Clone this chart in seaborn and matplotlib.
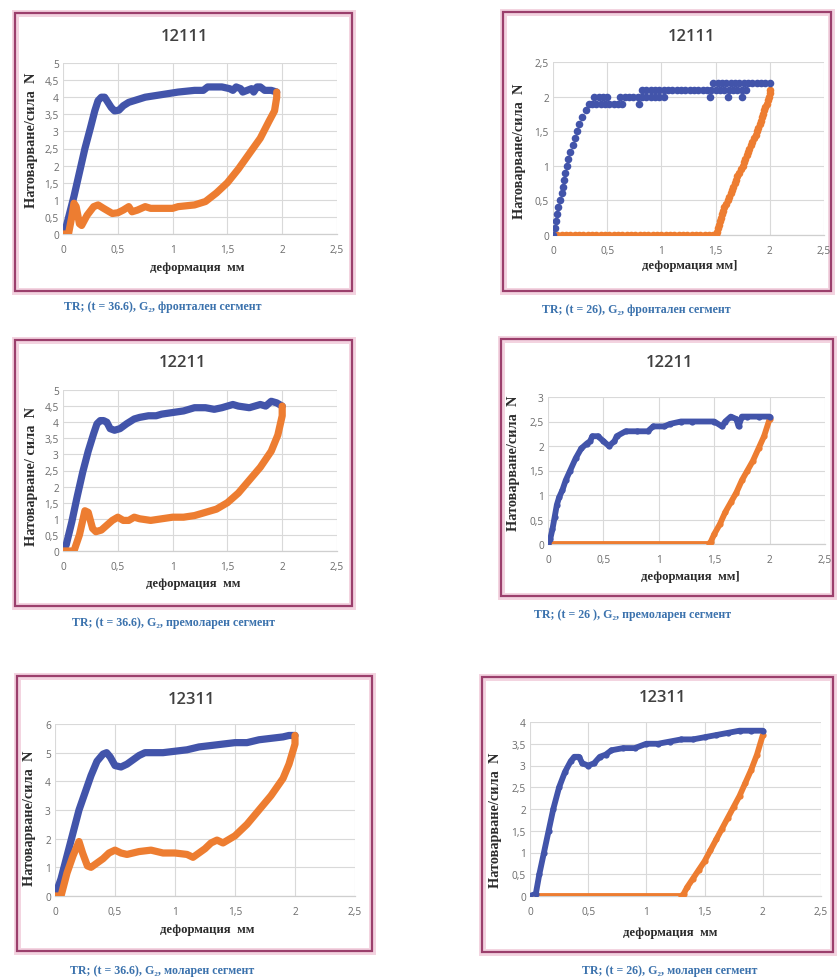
import numpy as np
import pandas as pd
import matplotlib
matplotlib.use("Agg")
import matplotlib.pyplot as plt
from matplotlib.patches import Rectangle
from matplotlib.ticker import MultipleLocator, FuncFormatter
import seaborn as sns

# ---------------------------------------------------------------- data
# 12111, t = 36.6 (frontal segment)
p1_load_x = [0.00, 0.02, 0.06, 0.10, 0.15, 0.20, 0.25, 0.29, 0.32, 0.35, 0.38, 0.41, 0.44,
             0.47, 0.51, 0.55, 0.60, 0.65, 0.70, 0.75, 0.85, 0.95, 1.05, 1.20, 1.28, 1.32,
             1.45, 1.52, 1.55, 1.58, 1.62, 1.64, 1.68, 1.72, 1.74, 1.77, 1.80, 1.84, 1.90, 1.95]
p1_load_y = [0.00, 0.10, 0.60, 1.10, 1.80, 2.50, 3.10, 3.60, 3.90, 4.00, 4.00, 3.85, 3.70,
             3.60, 3.62, 3.75, 3.85, 3.90, 3.95, 4.00, 4.05, 4.10, 4.15, 4.20, 4.20, 4.30,
             4.30, 4.25, 4.20, 4.30, 4.25, 4.15, 4.20, 4.25, 4.15, 4.30, 4.30, 4.20, 4.20, 4.15]
p1_unload_x = [0.00, 0.05, 0.08, 0.10, 0.12, 0.15, 0.17, 0.22, 0.28, 0.32, 0.37, 0.45, 0.50,
               0.55, 0.60, 0.63, 0.68, 0.75, 0.80, 1.00, 1.05, 1.20, 1.30, 1.40, 1.50, 1.60,
               1.70, 1.80, 1.88, 1.93, 1.95, 1.95]
p1_unload_y = [0.00, 0.00, 0.50, 0.90, 0.80, 0.30, 0.25, 0.55, 0.80, 0.85, 0.75, 0.60, 0.62,
               0.70, 0.80, 0.65, 0.70, 0.80, 0.75, 0.75, 0.80, 0.85, 0.95, 1.20, 1.50, 1.90,
               2.35, 2.80, 3.30, 3.60, 4.00, 4.15]

# 12111, t = 26 (frontal segment) - individual readings
p2_load_x = [0.00, 0.02, 0.03, 0.04, 0.05, 0.06, 0.08, 0.09, 0.10, 0.11, 0.13, 0.14, 0.16,
             0.18, 0.20, 0.22, 0.24, 0.27, 0.30, 0.33,
             0.36, 0.40, 0.44, 0.48, 0.52, 0.56, 0.60, 0.64, 0.79,
             0.38, 0.42, 0.46, 0.50, 0.62, 0.66, 0.70, 0.74, 0.78, 0.82, 0.86, 0.90, 0.94,
             0.98, 1.02, 1.45, 1.61, 1.74,
             0.82, 0.86, 0.90, 0.94, 0.98, 1.02, 1.06, 1.10, 1.14, 1.18, 1.22, 1.26, 1.30,
             1.34, 1.38, 1.42, 1.46, 1.50, 1.54, 1.58, 1.62, 1.66, 1.70, 1.74, 1.78,
             1.48, 1.52, 1.56, 1.60, 1.64, 1.68, 1.72, 1.76, 1.80, 1.84, 1.88, 1.92, 1.96, 2.00]
p2_load_y = [0.00, 0.10, 0.20, 0.30, 0.40, 0.50, 0.60, 0.70, 0.80, 0.90, 1.00, 1.10, 1.20,
             1.30, 1.40, 1.50, 1.60, 1.70, 1.80, 1.90,
             1.90, 1.90, 1.90, 1.90, 1.90, 1.90, 1.90, 1.90, 1.90,
             2.00, 2.00, 2.00, 2.00, 2.00, 2.00, 2.00, 2.00, 2.00, 2.00, 2.00, 2.00, 2.00,
             2.00, 2.00, 2.00, 2.00, 2.00,
             2.10, 2.10, 2.10, 2.10, 2.10, 2.10, 2.10, 2.10, 2.10, 2.10, 2.10, 2.10, 2.10,
             2.10, 2.10, 2.10, 2.10, 2.10, 2.10, 2.10, 2.10, 2.10, 2.10, 2.10, 2.10,
             2.20, 2.20, 2.20, 2.20, 2.20, 2.20, 2.20, 2.20, 2.20, 2.20, 2.20, 2.20, 2.20, 2.20]
p2_unload_x = [0.00, 0.04, 0.08, 0.12, 0.16, 0.20, 0.24, 0.28, 0.32, 0.36, 0.40, 0.44, 0.48,
               0.52, 0.56, 0.60, 0.64, 0.68, 0.72, 0.76, 0.80, 0.84, 0.88, 0.92, 0.96, 1.00,
               1.04, 1.08, 1.12, 1.16, 1.20, 1.24, 1.28, 1.32, 1.36, 1.40, 1.44, 1.48,
               1.50, 1.51, 1.52, 1.53, 1.54, 1.55, 1.56, 1.57, 1.58, 1.60, 1.61, 1.62, 1.64,
               1.65, 1.66, 1.68, 1.69, 1.70, 1.72, 1.73, 1.75, 1.76, 1.77, 1.79, 1.80, 1.81,
               1.83, 1.84, 1.85, 1.87, 1.88, 1.89, 1.91, 1.92, 1.93, 1.94, 1.95, 1.96, 1.97,
               1.98, 1.99, 2.00, 2.00]
p2_unload_y = [0.00] * 38 + [
               0.00, 0.05, 0.10, 0.15, 0.20, 0.25, 0.30, 0.35, 0.40, 0.45, 0.50, 0.55, 0.60,
               0.65, 0.70, 0.75, 0.80, 0.85, 0.90, 0.95, 1.00, 1.05, 1.10, 1.15, 1.20, 1.25,
               1.30, 1.35, 1.40, 1.45, 1.50, 1.55, 1.60, 1.65, 1.70, 1.75, 1.80, 1.85, 1.90,
               1.95, 2.00, 2.05, 2.10]

# 12211, t = 36.6 (premolar segment)
p3_load_x = [0.00, 0.03, 0.08, 0.13, 0.18, 0.23, 0.28, 0.31, 0.34, 0.37, 0.40, 0.43, 0.47,
             0.52, 0.58, 0.65, 0.70, 0.78, 0.85, 0.90, 1.00, 1.10, 1.20, 1.30, 1.38, 1.45,
             1.55, 1.60, 1.70, 1.80, 1.85, 1.90, 1.95, 2.00]
p3_load_y = [0.00, 0.20, 0.90, 1.70, 2.45, 3.10, 3.65, 3.95, 4.05, 4.05, 4.00, 3.80, 3.75,
             3.80, 3.95, 4.10, 4.15, 4.20, 4.20, 4.25, 4.30, 4.35, 4.45, 4.45, 4.40, 4.45,
             4.55, 4.50, 4.45, 4.55, 4.50, 4.65, 4.60, 4.50]
p3_unload_x = [0.00, 0.10, 0.15, 0.20, 0.23, 0.27, 0.30, 0.35, 0.40, 0.45, 0.50, 0.55, 0.60,
               0.65, 0.70, 0.80, 0.90, 1.00, 1.10, 1.20, 1.30, 1.40, 1.50, 1.60, 1.70, 1.80,
               1.90, 1.96, 2.00, 2.00]
p3_unload_y = [0.00, 0.00, 0.50, 1.25, 1.20, 0.70, 0.60, 0.65, 0.80, 0.95, 1.05, 0.95, 0.95,
               1.05, 1.00, 0.95, 1.00, 1.05, 1.05, 1.10, 1.20, 1.30, 1.50, 1.80, 2.20, 2.60,
               3.10, 3.60, 4.20, 4.50]

# 12211, t = 26 (premolar segment)
p4_load_x = [0.00, 0.02, 0.04, 0.06, 0.08, 0.10, 0.13, 0.16, 0.20, 0.25, 0.30, 0.35, 0.38,
             0.40, 0.45, 0.50, 0.55, 0.60, 0.62, 0.70, 0.80, 0.90, 0.95, 1.05, 1.10, 1.20,
             1.30, 1.50, 1.57, 1.60, 1.65, 1.70, 1.72, 1.75, 1.80, 1.90, 2.00]
p4_load_y = [0.00, 0.10, 0.30, 0.55, 0.80, 0.95, 1.10, 1.30, 1.50, 1.75, 1.95, 2.05, 2.10,
             2.20, 2.20, 2.10, 2.00, 2.10, 2.20, 2.30, 2.30, 2.30, 2.40, 2.40, 2.45, 2.50,
             2.50, 2.50, 2.40, 2.50, 2.60, 2.55, 2.40, 2.60, 2.60, 2.60, 2.60]
p4_unload_x = [0.00, 1.45, 1.47, 1.50, 1.55, 1.60, 1.65, 1.70, 1.75, 1.80, 1.85, 1.90, 1.95,
               2.00]
p4_unload_y = [0.00, 0.00, 0.05, 0.20, 0.40, 0.65, 0.85, 1.05, 1.30, 1.50, 1.70, 1.95, 2.20,
               2.55]

# 12311, t = 36.6 (molar segment)
p5_load_x = [0.00, 0.05, 0.10, 0.15, 0.20, 0.25, 0.30, 0.35, 0.40, 0.43, 0.46, 0.50, 0.55,
             0.60, 0.65, 0.70, 0.75, 0.90, 1.00, 1.10, 1.20, 1.30, 1.40, 1.50, 1.60, 1.70,
             1.80, 1.90, 1.95, 2.00]
p5_load_y = [0.00, 0.60, 1.40, 2.20, 3.00, 3.60, 4.20, 4.70, 4.95, 5.00, 4.85, 4.55, 4.50,
             4.60, 4.75, 4.90, 5.00, 5.00, 5.05, 5.10, 5.20, 5.25, 5.30, 5.35, 5.35, 5.45,
             5.50, 5.55, 5.60, 5.60]
p5_unload_x = [0.00, 0.05, 0.10, 0.15, 0.20, 0.23, 0.27, 0.30, 0.35, 0.40, 0.45, 0.50, 0.55,
               0.60, 0.70, 0.80, 0.85, 0.90, 1.00, 1.10, 1.15, 1.20, 1.25, 1.30, 1.35, 1.40,
               1.50, 1.60, 1.70, 1.80, 1.90, 1.95, 2.00, 2.00]
p5_unload_y = [0.00, 0.00, 0.80, 1.40, 1.90, 1.50, 1.05, 1.00, 1.15, 1.30, 1.50, 1.60, 1.50,
               1.45, 1.55, 1.60, 1.55, 1.50, 1.50, 1.45, 1.35, 1.50, 1.65, 1.85, 1.95, 1.85,
               2.10, 2.50, 3.00, 3.50, 4.10, 4.60, 5.30, 5.60]

# 12311, t = 26 (molar segment)
p6_load_x = [0.00, 0.05, 0.08, 0.12, 0.16, 0.20, 0.25, 0.30, 0.35, 0.38, 0.42, 0.45, 0.50,
             0.55, 0.60, 0.65, 0.70, 0.80, 0.90, 1.00, 1.10, 1.20, 1.30, 1.40, 1.50, 1.60,
             1.70, 1.80, 1.90, 2.00]
p6_load_y = [0.00, 0.05, 0.50, 1.00, 1.50, 2.00, 2.50, 2.85, 3.10, 3.20, 3.20, 3.05, 3.00,
             3.05, 3.20, 3.25, 3.35, 3.40, 3.40, 3.50, 3.50, 3.55, 3.60, 3.60, 3.65, 3.70,
             3.75, 3.80, 3.80, 3.80]
p6_unload_x = [0.00, 1.30, 1.32, 1.35, 1.40, 1.45, 1.50, 1.55, 1.60, 1.65, 1.70, 1.75, 1.80,
               1.85, 1.90, 1.95, 2.00]
p6_unload_y = [0.00, 0.00, 0.05, 0.20, 0.40, 0.60, 0.80, 1.05, 1.30, 1.55, 1.80, 2.05, 2.30,
               2.60, 2.90, 3.25, 3.70]

titles = ["12111", "12111", "12211", "12211", "12311", "12311"]
y_labels = ["Натоварване/сила  N", "Натоварване/сила  N", "Натоварване/ сила  N",
            "Натоварване/сила  N", "Натоварване/сила  N", "Натоварване/сила  N"]
x_labels = ["деформация  мм", "деформация мм]", "деформация  мм",
            "деформация  мм]", "деформация  мм", "деформация  мм"]
captions = ["TR; (t = 36.6), G₂, фронтален сегмент",
            "TR; (t = 26), G₂, фронтален сегмент",
            "TR; (t = 36.6), G₂, премоларен сегмент",
            "TR; (t = 26 ), G₂, премоларен сегмент",
            "TR; (t = 36.6), G₂, моларен сегмент",
            "TR; (t = 26), G₂, моларен сегмент"]
y_max = [5, 2.5, 5, 3, 6, 4]
y_step = [0.5, 0.5, 0.5, 0.5, 1, 0.5]

series = [
    (p1_load_x, p1_load_y, p1_unload_x, p1_unload_y, "line"),
    (p2_load_x, p2_load_y, p2_unload_x, p2_unload_y, "dots"),
    (p3_load_x, p3_load_y, p3_unload_x, p3_unload_y, "line"),
    (p4_load_x, p4_load_y, p4_unload_x, p4_unload_y, "dense"),
    (p5_load_x, p5_load_y, p5_unload_x, p5_unload_y, "line"),
    (p6_load_x, p6_load_y, p6_unload_x, p6_unload_y, "dense"),
]

# ---------------------------------------------------------------- layout (pixels)
W, H = 839, 979
plot_px = [(63, 64, 337, 235), (553, 63, 824, 236), (63, 391, 337, 552),
           (548, 398, 825, 545), (55, 725, 355, 897), (530, 723, 821, 897)]
box_px = [(15, 14, 352, 292), (503, 13, 831, 292), (15, 341, 352, 607),
          (501, 340, 833, 597), (17, 677, 372, 952), (482, 678, 833, 953)]
title_px = [(185, 37), (692, 37), (183, 363), (670, 363), (192, 700), (663, 698)]
ylabel_px = [(32, 140), (519, 151), (32, 477), (514, 463), (30, 818), (496, 820)]
xlabel_px = [(197, 268), (690, 266), (193, 584), (690, 577), (207, 930), (670, 933)]
caption_px = [(163, 307), (636, 310), (173, 623), (633, 615), (162, 971), (670, 971)]

BLUE = "#4254aa"
ORANGE = "#ed7d31"
GRID = "#d9d9d9"

sns.set_theme(style="white")
plt.rcParams["font.family"] = ["Open Sans", "DejaVu Sans"]

fig = plt.figure(figsize=(W / 100, H / 100), dpi=100)
fig.patch.set_facecolor("white")


def fx(px):
    return px / W


def fy(py):
    return 1 - py / H


comma = FuncFormatter(lambda v, _: f"{v:g}".replace(".", ","))
serif = ["Liberation Serif", "DejaVu Serif"]

for i in range(6):
    lx, ly, ux, uy, style = series[i]
    x0, y0, x1, y1 = plot_px[i]

    # chart frame, drawn beneath everything else
    bx0, by0, bx1, by1 = box_px[i]
    for lw, col in [(5, "#f3d3e0"), (1.6, "#9b3f6c")]:
        fig.patches.append(Rectangle((fx(bx0), fy(by1)), fx(bx1 - bx0), (by1 - by0) / H,
                                     transform=fig.transFigure, fill=False,
                                     edgecolor=col, linewidth=lw, zorder=-1))

    ax = fig.add_axes([fx(x0), fy(y1), fx(x1 - x0), (y1 - y0) / H])
    ax.set_facecolor("white")

    load = pd.DataFrame({"x": lx, "y": ly})
    unload = pd.DataFrame({"x": ux, "y": uy})

    if style == "line":
        for df, col in [(load, BLUE), (unload, ORANGE)]:
            sns.lineplot(data=df, x="x", y="y", ax=ax, sort=False, estimator=None,
                         color=col, linewidth=5.2, solid_capstyle="round",
                         solid_joinstyle="round", zorder=3)
    elif style == "dots":
        for df, col in [(unload, ORANGE), (load, BLUE)]:
            sns.scatterplot(data=df, x="x", y="y", ax=ax, color=col, s=30,
                            linewidth=0, zorder=3)
    else:
        for df, col in [(unload, ORANGE), (load, BLUE)]:
            sns.lineplot(data=df, x="x", y="y", ax=ax, sort=False, estimator=None,
                         color=col, linewidth=4.2, marker="o", markersize=4.5,
                         markeredgewidth=0, solid_capstyle="round",
                         solid_joinstyle="round", zorder=3)

    ax.set_xlim(0, 2.5)
    ax.set_ylim(0, y_max[i])
    ax.xaxis.set_major_locator(MultipleLocator(0.5))
    ax.yaxis.set_major_locator(MultipleLocator(y_step[i]))
    ax.xaxis.set_major_formatter(comma)
    ax.yaxis.set_major_formatter(comma)
    ax.grid(True, color=GRID, linewidth=0.8)
    ax.set_axisbelow(True)
    for side in ["top", "right", "left"]:
        ax.spines[side].set_visible(False)
    ax.spines["bottom"].set_color("#cfcfcf")
    ax.spines["bottom"].set_linewidth(0.9)
    ax.tick_params(axis="x", length=0, labelsize=7.3, labelcolor="#6b6b6b", pad=7)
    ax.tick_params(axis="y", length=0, labelsize=7.3, labelcolor="#6b6b6b", pad=3)
    for lab in ax.get_xticklabels() + ax.get_yticklabels():
        lab.set_fontfamily(["Open Sans", "DejaVu Sans"])

    # axis titles
    ax.set_xlabel(x_labels[i], fontsize=9.2, fontweight="bold", color="#2b2b2b",
                  fontfamily=serif)
    ax.set_ylabel(y_labels[i], fontsize=10.3, fontweight="bold", color="#2b2b2b",
                  fontfamily=serif)
    ax.xaxis.label.set_va("center")
    ax.yaxis.label.set_va("center")
    xlx, xly = xlabel_px[i]
    ax.xaxis.set_label_coords((xlx - x0) / (x1 - x0), (y1 - xly) / (y1 - y0))
    ylx, yly = ylabel_px[i]
    ax.yaxis.set_label_coords((ylx - x0) / (x1 - x0), (y1 - yly) / (y1 - y0))

    # chart title and caption
    tx, ty = title_px[i]
    fig.text(fx(tx), fy(ty), titles[i], ha="center", va="center", fontsize=12,
             fontweight="semibold", color="#404040", family=["Open Sans", "DejaVu Sans"])
    cx, cy = caption_px[i]
    fig.text(fx(cx), fy(cy), captions[i], ha="center", va="center", fontsize=8.6,
             fontweight="bold", color="#3b72ad", family=serif)

fig.savefig("out.png", dpi=100, facecolor="white")
